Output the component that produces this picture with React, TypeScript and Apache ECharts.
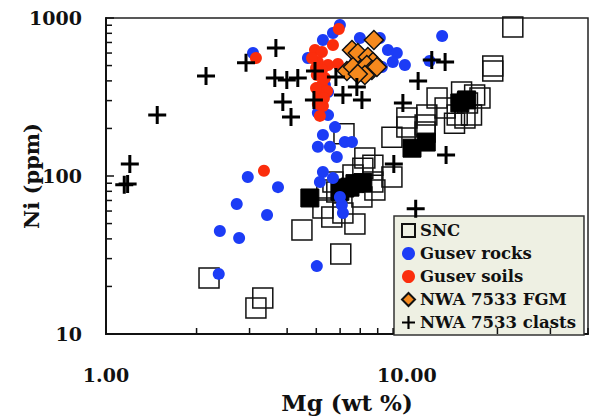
import React, { useEffect, useRef } from 'react';
import * as echarts from 'echarts';

// [Mg wt%, Ni ppm]
const sncOpen = [
  [22.5, 877], [19.3, 497], [19.3, 462], [16.8, 326], [17.5, 312], [15.9, 290], [15.6, 233],
  [16.4, 243], [15.2, 340], [12.6, 312], [13.4, 269], [14.7, 243], [11.65, 243], [11.5, 210],
  [10.0, 233], [14.4, 216], [8.92, 176], [10.0, 204], [6.18, 185], [7.25, 130], [7.14, 112],
  [6.62, 101.5], [8.92, 98.6], [7.71, 91.6], [7.83, 81.5], [5.68, 91.6], [5.85, 79.2],
  [5.42, 81.5], [7.09, 73.6], [5.26, 62.7], [5.63, 55.0], [6.13, 58.3], [6.72, 49.7],
  [4.48, 45.5], [6.03, 32.1], [2.2, 22.6], [3.32, 16.9], [3.15, 14.6], [11.5, 190], [7.71, 117],
];
const sncFilled = [
  [4.76, 72.6], [6.22, 83.9], [6.72, 89.5], [7.14, 90.9], [10.4, 150], [11.6, 164],
  [15.0, 290], [15.8, 303], [6.47, 85], [5.99, 80],
];
const gusevRocks = [
  [3.08, 600], [2.96, 98.6], [3.73, 85], [2.72, 66.5], [3.43, 56.7], [2.39, 44.9], [2.77, 40.5],
  [2.37, 24.0], [5.02, 26.9], [6.08, 65.6], [6.13, 58.3], [5.99, 73.6], [5.26, 106], [5.14, 91.6],
  [5.68, 97], [5.85, 132], [5.06, 153], [5.55, 153], [6.22, 164], [6.57, 164], [5.26, 182],
  [5.77, 204], [5.47, 243], [5.06, 251], [5.47, 340], [5.99, 903], [5.68, 804], [5.26, 726],
  [4.69, 558], [6.98, 747], [8.13, 747], [8.65, 627], [9.26, 600], [9.85, 504], [8.26, 490],
  [8.98, 527], [11.9, 535], [13.1, 769], [6.47, 627], [6.72, 527], [5.34, 377],
];
const gusevSoils = [
  [3.15, 558], [3.35, 108], [5.94, 851], [5.68, 675], [4.95, 627], [5.22, 609], [5.06, 527],
  [5.47, 504], [5.9, 512], [5.02, 436], [5.34, 417], [5.22, 377], [5.43, 345], [5.14, 321],
  [5.06, 286], [5.26, 277], [5.14, 240], [4.84, 558], [4.99, 483], [5.22, 469], [4.99, 360],
  [5.3, 311],
];
const nwaFGM = [
  [7.77, 726], [6.57, 627], [6.87, 600], [7.42, 566], [7.71, 527], [6.32, 462], [6.62, 490],
  [7.09, 469], [7.36, 504], [7.65, 469], [7.95, 490], [7.25, 436], [6.87, 442],
];
const nwaClasts = [
  [1.15, 88], [1.18, 89], [1.2, 119], [1.48, 243], [2.15, 430], [2.92, 520], [3.67, 645],
  [3.64, 417], [3.99, 405], [4.34, 417], [3.87, 294], [4.12, 236], [4.95, 462], [4.91, 303],
  [5.81, 423], [6.13, 326], [6.82, 366], [7.09, 303], [9.7, 290], [10.9, 399], [12.1, 542],
  [13.4, 527], [9.05, 119], [13.5, 136], [10.7, 62],
];
const legendNames = ['SNC', 'Gusev rocks', 'Gusev soils', 'NWA 7533 FGM', 'NWA 7533 clasts'];
const xMinorTicks = [2, 3, 4, 5, 6, 7, 8, 9, 20, 30, 40];
const yMinorTicks = [20, 30, 40, 50, 60, 70, 80, 90, 200, 300, 400, 500, 600, 700, 800, 900];

export default function App() {
  const ref = useRef<HTMLDivElement>(null);
  useEffect(() => {
    const chart = echarts.init(ref.current!, null, { renderer: 'svg' });
    const font = "'DejaVu Serif', serif";
    const plus = 'path://M5,0H7V5H12V7H7V12H5V7H0V5H5Z';
    const bold = { fontFamily: font, fontWeight: 'bold' as const, color: '#111' };
    chart.setOption({
      animation: false,
      grid: {
        left: 106, top: 18, right: 1, bottom: 84, show: true, containLabel: false,
        outerBoundsMode: 'none',
        borderColor: '#222', borderWidth: 1.5, backgroundColor: 'transparent',
      },
      xAxis: {
        type: 'log', logBase: 10, min: 1, max: 40,
        name: 'Mg (wt %)', nameLocation: 'middle', nameGap: 57,
        nameTextStyle: { ...bold, fontSize: 23 },
        axisLine: { show: true, onZero: false, lineStyle: { color: '#111', width: 2 } },
        axisTick: { show: true, inside: true, length: 8, lineStyle: { color: '#111', width: 1.5 } },
        axisLabel: {
          ...bold, fontSize: 19, margin: 31, showMaxLabel: false,
          formatter: (v: number) => v.toFixed(2),
        },
        splitLine: { show: false },
      },
      yAxis: {
        type: 'log', logBase: 10, min: 10, max: 1000,
        name: 'Ni (ppm)', nameLocation: 'middle', nameGap: 64, nameRotate: 90,
        nameMoveOverlap: false,
        nameTextStyle: { ...bold, fontSize: 21 },
        axisLine: { show: true, onZero: false, lineStyle: { color: '#111', width: 2 } },
        axisTick: { show: true, inside: true, length: 8, lineStyle: { color: '#111', width: 1.5 } },
        axisLabel: { ...bold, fontSize: 19, margin: 24, formatter: (v: number) => String(Math.round(v)) },
        splitLine: { show: false },
      },
      legend: {
        data: legendNames,
        orient: 'vertical', left: 394, top: 216,
        backgroundColor: '#eef0e3', borderColor: '#333', borderWidth: 1.5, borderRadius: 0,
        padding: [6, 8, 4, 7], itemGap: 6, itemWidth: 13, itemHeight: 13,
        textStyle: { ...bold, fontSize: 16.5 },
      },
      series: [
        {
          type: 'scatter', name: 'SNC', data: sncOpen, symbol: 'rect', symbolSize: 20,
          itemStyle: { color: 'transparent', borderColor: '#111', borderWidth: 1.5, opacity: 1 }, z: 2,
        },
        {
          type: 'scatter', name: 'SNC filled', data: sncFilled, symbol: 'rect', symbolSize: 18,
          itemStyle: { color: '#000', borderColor: '#000', borderWidth: 1, opacity: 1 }, z: 2,
        },
        {
          type: 'scatter', name: 'Gusev rocks', data: gusevRocks, symbol: 'circle', symbolSize: 12,
          itemStyle: { color: '#1c3cf6', opacity: 1 }, z: 3,
        },
        {
          type: 'scatter', name: 'Gusev soils', data: gusevSoils, symbol: 'circle', symbolSize: 12,
          itemStyle: { color: '#fb2d0c', opacity: 1 }, z: 4,
        },
        {
          type: 'scatter', name: 'NWA 7533 FGM', data: nwaFGM, symbol: 'diamond', symbolSize: 19,
          itemStyle: { color: '#f5891d', borderColor: '#111', borderWidth: 1.5, opacity: 1 }, z: 5,
        },
        {
          type: 'scatter', name: 'NWA 7533 clasts', data: nwaClasts, symbol: plus, symbolSize: 18,
          itemStyle: { color: '#000', opacity: 1 }, z: 6,
        },
        {
          type: 'scatter', name: 'xticks', data: xMinorTicks.map((v) => [v, 10]), symbol: 'rect',
          symbolSize: [1.5, 6], symbolOffset: [0, -3], itemStyle: { color: '#111', opacity: 1 },
          silent: true, clip: false, z: 7,
        },
        {
          type: 'scatter', name: 'yticks', data: yMinorTicks.map((v) => [1, v]), symbol: 'rect',
          symbolSize: [6, 1.5], symbolOffset: [3, 0], itemStyle: { color: '#111', opacity: 1 },
          silent: true, clip: false, z: 7,
        },
      ],
    });
    return () => chart.dispose();
  }, []);
  return (
    <div
      ref={ref}
      style={{ position: 'fixed', left: 0, top: 0, width: 589, height: 418, background: '#fff' }}
    />
  );
}
